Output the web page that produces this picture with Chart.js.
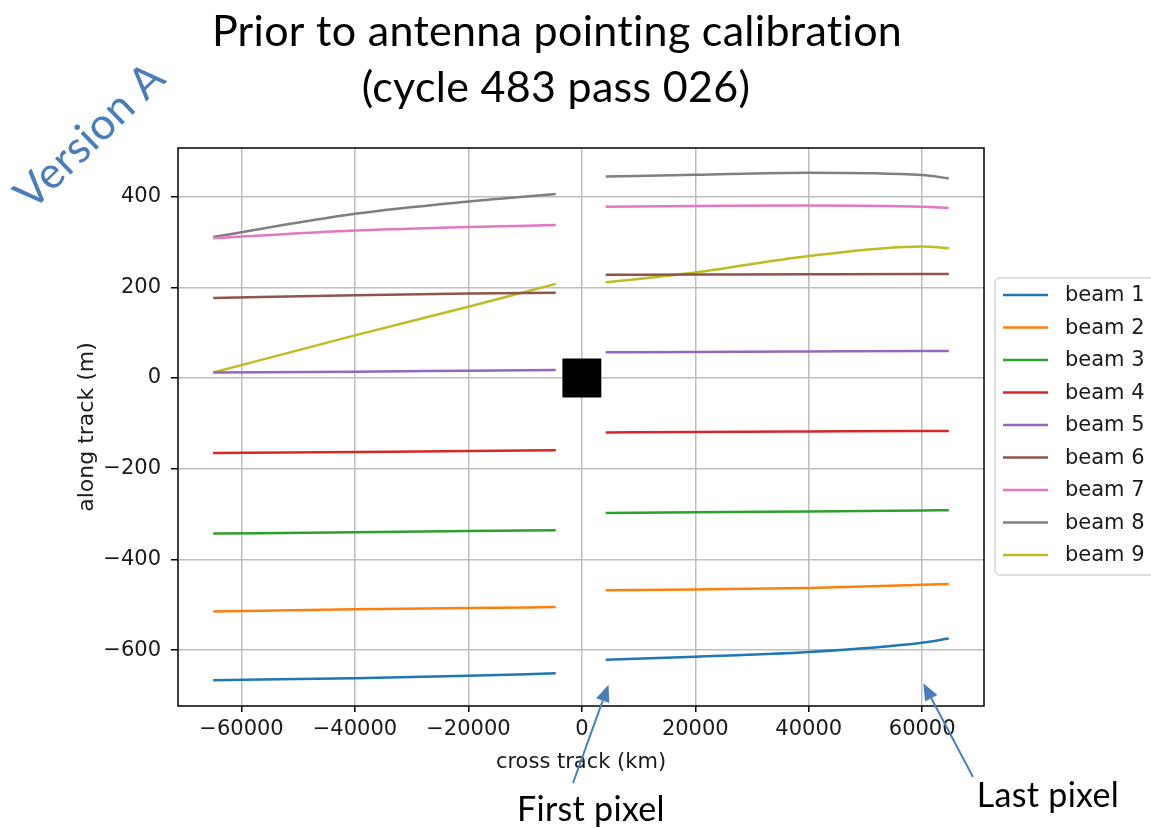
<!DOCTYPE html>
<html>
<head>
<meta charset="utf-8">
<title>Beam pointing</title>
<script src="https://cdn.jsdelivr.net/npm/chart.js@4.4.1/dist/chart.umd.min.js"></script>
<style>
  html, body { margin: 0; padding: 0; background: #fff; }
  #wrap { width: 1151px; height: 828px; }
</style>
</head>
<body>
<div id="wrap"><canvas id="pointing-chart" width="1151" height="828"></canvas></div>
<script>
// cross track positions of the samples, left and right swath
var crossTrackLeft = [-65000, -40000, -20000, -4600];
var crossTrackRight = [4200, 20000, 40000, 60000, 64700];

// along track offsets (m): 4 left samples then 5 right samples
var beam1 = [-666, -662, -656.5, -651, -621, -614.5, -604, -583.5, -574];
var beam2 = [-514.5, -510, -507, -505, -468, -466, -463, -456, -454];
var beam3 = [-343, -340, -337.5, -335.5, -297.5, -296, -294, -292, -291.5];
var beam4 = [-165.5, -163, -161, -159, -120, -119, -118, -117, -117];
var beam5 = [12, 14, 16, 17.5, 56.5, 57.5, 58.5, 59.5, 59.5];
var beam6 = [176.5, 182.5, 186, 188, 227.5, 228, 228.5, 229, 229];
var beam7 = [308, 325, 333, 337, 377.5, 379, 380.5, 377.5, 374.5];
var beam8 = [311, 362, 389, 405.5, 444, 448, 452.5, 447.5, 440];
var beam9 = [12, 94, 157, 207.5, 211, 232.5, 269, 290, 286];

var beamNames = ['beam 1', 'beam 2', 'beam 3', 'beam 4', 'beam 5', 'beam 6', 'beam 7', 'beam 8', 'beam 9'];
var beamColors = ['#1f77b4', '#ff7f0e', '#2ca02c', '#d62728', '#9467bd', '#8c564b', '#e377c2', '#7f7f7f', '#bcbd22'];

var xTicks = [-60000, -40000, -20000, 0, 20000, 40000, 60000];
var yTicks = [-600, -400, -200, 0, 200, 400];

// nadir marker
var nadir = [{x: 0, y: 0}];

var annoBlue = '#4a7ebb';
var tickFont = {family: 'DejaVu Sans', size: 21};

function toPoints(values) {
  var pts = [];
  for (var i = 0; i < crossTrackLeft.length; i++) {
    pts.push({x: crossTrackLeft[i], y: values[i]});
  }
  pts.push({x: 0, y: null}); // gap between the two half swaths
  for (var j = 0; j < crossTrackRight.length; j++) {
    pts.push({x: crossTrackRight[j], y: values[crossTrackLeft.length + j]});
  }
  return pts;
}

function minusSign(v) {
  return v < 0 ? '\u2212' + Math.abs(v) : '' + v;
}

var beams = [beam1, beam2, beam3, beam4, beam5, beam6, beam7, beam8, beam9];
var datasets = beams.map(function (b, i) {
  return {
    label: beamNames[i],
    data: toPoints(b),
    borderColor: beamColors[i],
    backgroundColor: beamColors[i],
    borderWidth: 2.5,
    pointRadius: 0,
    cubicInterpolationMode: 'monotone',
    spanGaps: false,
    fill: false
  };
});
datasets.push({
  type: 'scatter',
  label: 'nadir',
  data: nadir,
  pointStyle: 'rect',
  pointRadius: 27.5,
  backgroundColor: '#000',
  borderColor: '#000',
  borderWidth: 0
});

function arrow(ctx, x0, y0, x1, y1) {
  var ang = Math.atan2(y1 - y0, x1 - x0);
  var len = 17, half = 7;
  var bx = x1 - len * Math.cos(ang), by = y1 - len * Math.sin(ang);
  ctx.strokeStyle = annoBlue;
  ctx.fillStyle = annoBlue;
  ctx.lineWidth = 2;
  ctx.beginPath();
  ctx.moveTo(x0, y0);
  ctx.lineTo(bx, by);
  ctx.stroke();
  ctx.beginPath();
  ctx.moveTo(x1, y1);
  ctx.lineTo(bx + half * Math.sin(ang), by - half * Math.cos(ang));
  ctx.lineTo(bx - half * Math.sin(ang), by + half * Math.cos(ang));
  ctx.closePath();
  ctx.fill();
}

// black frame round the plot area
var framePlugin = {
  id: 'frame',
  afterDatasetsDraw: function (chart) {
    var a = chart.chartArea, ctx = chart.ctx;
    ctx.save();
    ctx.strokeStyle = '#000';
    ctx.lineWidth = 1.5;
    ctx.strokeRect(a.left, a.top, a.right - a.left, a.bottom - a.top);
    ctx.restore();
  }
};

// legend box to the right of the plot
var legendPlugin = {
  id: 'sideLegend',
  afterDraw: function (chart) {
    var ctx = chart.ctx;
    var bx = 995, by = 278, bw = 175, bh = 297;
    ctx.save();
    ctx.fillStyle = 'rgba(255,255,255,0.8)';
    ctx.strokeStyle = '#d4d4d4';
    ctx.lineWidth = 1.5;
    ctx.beginPath();
    ctx.roundRect(bx, by, bw, bh, 5);
    ctx.fill();
    ctx.stroke();
    ctx.font = '21px "DejaVu Sans"';
    ctx.textBaseline = 'middle';
    ctx.fillStyle = '#1a1a1a';
    for (var i = 0; i < beamNames.length; i++) {
      var y = 295 + i * 32.5;
      ctx.strokeStyle = beamColors[i];
      ctx.lineWidth = 2.5;
      ctx.beginPath();
      ctx.moveTo(1003, y);
      ctx.lineTo(1048, y);
      ctx.stroke();
      ctx.fillText(beamNames[i], 1065, y + 1);
    }
    ctx.restore();
  }
};

// slide title, version tag and the pixel arrows
var notesPlugin = {
  id: 'notes',
  afterDraw: function (chart) {
    var ctx = chart.ctx;
    var sx = chart.scales.x, sy = chart.scales.y;
    ctx.save();
    ctx.fillStyle = '#000';
    ctx.textAlign = 'center';
    ctx.textBaseline = 'alphabetic';
    ctx.letterSpacing = '0.3px'; // also keeps the "ti" pairs unligated
    ctx.font = '43px Lato';
    ctx.fillText('Prior to antenna pointing calibration', 557, 46);
    ctx.fillText('(cycle 483 pass 026)', 556, 102);

    ctx.font = '34px Lato';
    ctx.fillText('First pixel', 591, 821);
    ctx.fillText('Last pixel', 1048, 807);

    ctx.save();
    ctx.translate(90, 136);
    ctx.rotate(-44 * Math.PI / 180);
    ctx.fillStyle = annoBlue;
    ctx.font = '44px Lato';
    ctx.textBaseline = 'middle';
    ctx.fillText('Version A', 0, 0);
    ctx.restore();

    arrow(ctx, 573, 783, sx.getPixelForValue(4700), sy.getPixelForValue(-676));
    arrow(ctx, 973, 777, sx.getPixelForValue(60200), sy.getPixelForValue(-673));
    ctx.restore();
  }
};

var ctx = document.getElementById('pointing-chart');
new Chart(ctx, {
  type: 'line',
  data: {datasets: datasets},
  plugins: [framePlugin, legendPlugin, notesPlugin],
  options: {
    responsive: false,
    animation: false,
    layout: {padding: {left: 74, top: 148, right: 167, bottom: 53}},
    plugins: {
      legend: {display: false},
      tooltip: {enabled: false}
    },
    scales: {
      x: {
        type: 'linear',
        min: -71200,
        max: 70900,
        afterFit: function (s) { s.height = 69; },
        afterBuildTicks: function (s) { s.ticks = xTicks.map(function (v) { return {value: v}; }); },
        ticks: {
          callback: function (v) { return minusSign(v); },
          font: tickFont,
          color: '#1a1a1a',
          padding: 5,
          maxRotation: 0,
          autoSkip: false
        },
        grid: {color: '#bdbdbd', lineWidth: 1.5, tickLength: 6, tickColor: '#000', tickWidth: 1.5},
        border: {display: false},
        title: {display: true, text: 'cross track (km)', font: {family: 'DejaVu Sans', size: 21}, color: '#1a1a1a', padding: 0}
      },
      y: {
        type: 'linear',
        min: -723,
        max: 507,
        afterFit: function (s) { s.width = 104; },
        afterBuildTicks: function (s) { s.ticks = yTicks.map(function (v) { return {value: v}; }); },
        ticks: {
          callback: function (v) { return minusSign(v); },
          font: tickFont,
          color: '#1a1a1a',
          padding: 10
        },
        grid: {color: '#bdbdbd', lineWidth: 1.5, tickLength: 7, tickColor: '#000', tickWidth: 1.5},
        border: {display: false},
        title: {display: true, text: 'along track (m)', font: {family: 'DejaVu Sans', size: 22}, color: '#1a1a1a', padding: 0}
      }
    }
  }
});
</script>
</body>
</html>
